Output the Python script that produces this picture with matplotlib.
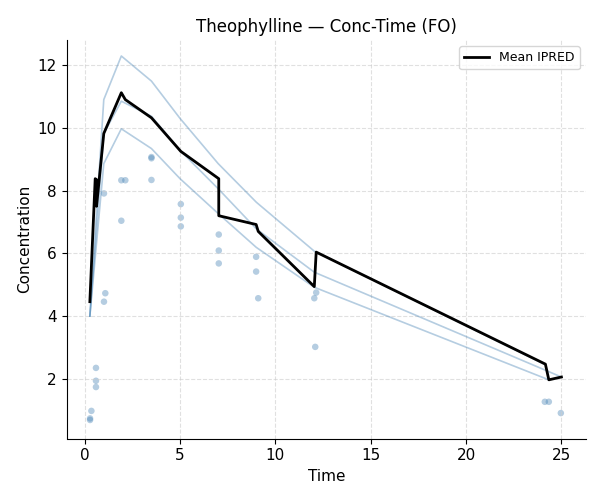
import numpy as np
import matplotlib
matplotlib.use('Agg')
import matplotlib.pyplot as plt

# observed concentrations
obs_time = [0.28, 0.28, 0.35, 0.59, 0.59, 0.59, 1.01, 1.08, 1.01, 1.92, 1.92, 2.13,
            3.5, 3.5, 3.5, 5.04, 5.04, 5.04, 7.03, 7.03, 7.03, 8.99, 8.99, 9.1,
            12.14, 12.04, 12.09, 24.13, 24.34, 24.97]
obs_conc = [0.69, 0.74, 0.98, 1.74, 1.94, 2.35, 4.46, 4.73, 7.91, 7.04, 8.33, 8.33,
            9.03, 9.07, 8.34, 7.57, 7.14, 6.86, 6.60, 6.09, 5.68, 5.89, 5.42, 4.57,
            4.75, 4.57, 3.02, 1.27, 1.27, 0.91]

# individual predictions (3 subjects)
ipred_upper_t = [0.27, 1.0, 1.92, 3.5, 5.0, 7.0, 9.0, 12.04, 24.16]
ipred_upper_c = [4.0, 10.9, 12.29, 11.49, 10.3, 8.86, 7.63, 6.07, 2.45]
ipred_mid_t = [0.27, 1.0, 1.92, 3.5, 5.0, 7.0, 9.0, 12.04, 25.0]
ipred_mid_c = [4.0, 9.82, 10.85, 10.37, 9.28, 8.06, 6.78, 5.40, 2.06]
ipred_low_t = [0.27, 1.0, 1.92, 3.5, 5.0, 7.0, 9.0, 12.04, 24.34]
ipred_low_c = [4.0, 8.86, 9.97, 9.34, 8.38, 7.27, 6.19, 4.92, 1.97]

# mean IPRED
mean_t = [0.27, 0.55, 0.62, 0.62, 1.0, 1.92, 2.13, 3.5, 5.04, 7.03, 7.03, 8.99, 9.1,
          12.04, 12.14, 24.16, 24.34, 25.0]
mean_c = [4.46, 8.38, 8.35, 7.5, 9.82, 11.12, 10.9, 10.32, 9.25, 8.38, 7.2, 6.92, 6.7,
          4.94, 6.04, 2.47, 1.97, 2.06]

fig, ax = plt.subplots(figsize=(6, 5), dpi=100)
fig.subplots_adjust(left=0.111, right=0.977, bottom=0.123, top=0.92)
ax.scatter(obs_time, obs_conc, s=22, color='steelblue', alpha=0.4, edgecolors='none')
for t, c in [(ipred_upper_t, ipred_upper_c), (ipred_mid_t, ipred_mid_c), (ipred_low_t, ipred_low_c)]:
    ax.plot(t, c, color='steelblue', alpha=0.4, linewidth=1.2)
ax.plot(mean_t, mean_c, color='black', linewidth=2, label='Mean IPRED')

ax.set_xlim(-0.95, 26.3)
ax.set_ylim(0.1, 12.8)
ax.set_xticks([0, 5, 10, 15, 20, 25])
ax.set_yticks([2, 4, 6, 8, 10, 12])
ax.tick_params(labelsize=11)
ax.grid(True, linestyle='--', color='#cccccc', alpha=0.6)
ax.spines['top'].set_visible(False)
ax.spines['right'].set_visible(False)
ax.set_xlabel('Time', fontsize=11)
ax.set_ylabel('Concentration', fontsize=11)
ax.set_title('Theophylline — Conc-Time (FO)', fontsize=12)
ax.legend(loc='upper right', fontsize=9)
fig.savefig('out.png')
